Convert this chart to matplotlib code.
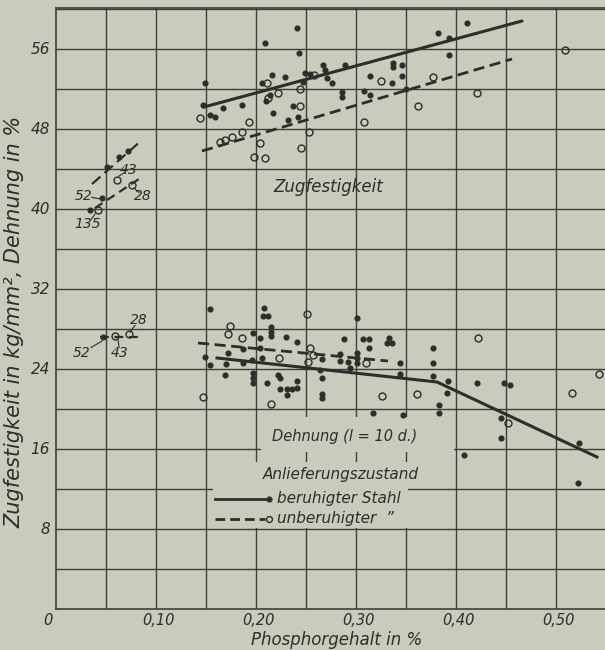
import matplotlib
matplotlib.use("Agg")
import matplotlib.pyplot as plt
from matplotlib.patches import Rectangle

# ---------------- data ----------------
# Zugfestigkeit (tensile strength), beruhigter Stahl (filled dots)
zug_ber_x = [0.241, 0.209, 0.243, 0.267, 0.216, 0.229, 0.249, 0.254, 0.269, 0.271,
             0.206, 0.149, 0.147, 0.167, 0.186, 0.154, 0.159, 0.217, 0.237, 0.232,
             0.242, 0.210, 0.214, 0.247,
             0.411, 0.382, 0.393, 0.393, 0.289, 0.337, 0.337, 0.346, 0.314, 0.346,
             0.336, 0.276, 0.286, 0.286, 0.308, 0.314, 0.350]
zug_ber_y = [58.1, 56.6, 55.6, 54.4, 53.4, 53.2, 53.6, 53.5, 53.9, 53.1,
             52.6, 52.6, 50.4, 50.1, 50.4, 49.4, 49.2, 49.6, 50.3, 48.9,
             49.2, 50.8, 51.4, 52.7,
             58.6, 57.6, 57.1, 55.4, 54.4, 54.6, 54.2, 54.4, 53.3, 53.3,
             52.6, 52.6, 51.7, 51.2, 51.8, 51.4, 52.0]
# Zugfestigkeit, unberuhigter Stahl (open circles)
zug_unb_x = [0.144, 0.193, 0.186, 0.164, 0.169, 0.176, 0.204, 0.198, 0.209, 0.245,
             0.244, 0.244, 0.253, 0.211, 0.212, 0.222, 0.258,
             0.325, 0.377, 0.421, 0.362, 0.308, 0.509]
zug_unb_y = [49.1, 48.7, 47.7, 46.7, 46.9, 47.2, 46.6, 45.2, 45.1, 46.1,
             50.3, 52.0, 47.7, 52.6, 51.1, 51.6, 53.4,
             52.8, 53.2, 51.6, 50.3, 48.7, 55.9]

# Dehnung (elongation), beruhigter Stahl
deh_ber_x = [0.154, 0.208, 0.207, 0.212, 0.215, 0.215, 0.215, 0.197, 0.204, 0.230,
             0.241, 0.172, 0.204, 0.187, 0.206, 0.149, 0.154, 0.170, 0.187, 0.196,
             0.169, 0.197, 0.197, 0.197, 0.211, 0.222, 0.224, 0.241, 0.224, 0.231,
             0.236, 0.241, 0.231, 0.266, 0.266, 0.264, 0.266, 0.266,
             0.301, 0.288, 0.307, 0.313, 0.313, 0.333, 0.331, 0.336, 0.284, 0.284,
             0.301, 0.301, 0.301, 0.292, 0.294, 0.344, 0.344, 0.377, 0.377, 0.377,
             0.392, 0.391, 0.383, 0.383, 0.317, 0.347, 0.421, 0.448, 0.454, 0.445,
             0.445, 0.408, 0.523, 0.522]
deh_ber_y = [30.0, 30.1, 29.3, 29.3, 28.2, 27.7, 27.3, 27.6, 27.1, 27.2,
             26.7, 25.6, 26.1, 26.0, 25.1, 25.2, 24.4, 24.5, 24.6, 24.9,
             23.4, 23.6, 23.1, 22.6, 22.6, 23.4, 23.1, 22.8, 22.0, 22.0,
             22.0, 22.1, 21.4, 21.5, 21.1, 23.9, 23.1, 25.0,
             29.1, 27.0, 27.0, 27.0, 26.1, 27.1, 26.6, 26.6, 25.5, 24.8,
             25.6, 25.1, 24.6, 24.7, 24.1, 24.6, 23.5, 26.1, 24.6, 23.3,
             22.8, 21.6, 20.4, 19.6, 19.6, 19.4, 22.6, 22.6, 22.4, 19.1,
             17.1, 15.4, 16.6, 12.6]
# Dehnung, unberuhigter Stahl
deh_unb_x = [0.174, 0.172, 0.186, 0.251, 0.223, 0.254, 0.257, 0.252, 0.147, 0.215,
             0.422, 0.310, 0.326, 0.361, 0.516, 0.543, 0.452]
deh_unb_y = [28.3, 27.5, 27.1, 29.5, 25.1, 26.1, 25.4, 24.7, 21.2, 20.5,
             27.1, 24.6, 21.3, 21.5, 21.6, 23.5, 18.6]

# mean lines
zug_ber_line_x = [0.148, 0.466]
zug_ber_line_y = [50.2, 58.8]
zug_unb_line_x = [0.146, 0.456]
zug_unb_line_y = [45.8, 55.0]
deh_ber_line_x = [0.161, 0.381, 0.541]
deh_ber_line_y = [25.1, 22.7, 15.2]
deh_unb_line_x = [0.142, 0.332]
deh_unb_line_y = [26.6, 24.8]

# low-phosphorus group (numbered samples)
low_zug_ber_line_x = [0.036, 0.086]
low_zug_ber_line_y = [42.5, 46.9]
low_zug_unb_line_x = [0.039, 0.086]
low_zug_unb_line_y = [40.1, 43.2]
low_deh_line_x = [0.044, 0.087]
low_deh_line_y = [27.2, 27.2]
low_zug_ber_x = [0.051, 0.063, 0.072, 0.046, 0.034]
low_zug_ber_y = [44.2, 45.2, 45.8, 41.1, 39.9]
low_zug_unb_x = [0.061, 0.076, 0.042]
low_zug_unb_y = [42.9, 42.4, 39.9]
low_deh_ber_x = [0.047]
low_deh_ber_y = [27.2]
low_deh_unb_x = [0.059, 0.073]
low_deh_unb_y = [27.3, 27.5]

# sample labels: text, label position, leader end
sample_labels = ["43", "52", "28", "135", "28", "52", "43"]
sample_lab_x = [0.073, 0.028, 0.087, 0.032, 0.083, 0.026, 0.064]
sample_lab_y = [43.9, 41.3, 41.3, 38.5, 28.9, 25.6, 25.6]
sample_ptr_x = [0.063, 0.045, 0.078, 0.039, 0.074, 0.046, 0.062]
sample_ptr_y = [43.3, 41.0, 42.1, 39.5, 27.7, 26.8, 26.9]

xtick_pos = [0.10, 0.20, 0.30, 0.40, 0.50]
xtick_lab = ["0,10", "0,20", "0,30", "0,40", "0,50"]
ytick_pos = [8, 16, 24, 32, 40, 48, 56]
ytick_lab = ["8", "16", "24", "32", "40", "48", "56"]

# ---------------- style ----------------
BG = "#cacbbc"
INK = "#2d2d29"
GRID = "#3f3f3a"
FONT = ["DejaVu Sans"]

plt.rcParams["font.family"] = FONT
plt.rcParams["font.style"] = "italic"

fig = plt.figure(figsize=(6.05, 6.5), dpi=100, facecolor=BG)
ax = fig.add_axes([56 / 605, 41 / 650, 549 / 605, 601 / 650])
ax.set_facecolor(BG)
ax.set_xlim(0, 0.549)
ax.set_ylim(0, 60.1)

# grid
for gx in [i * 0.05 for i in range(1, 11)]:
    ax.axvline(gx, color=GRID, lw=1.0, zorder=0.5)
for gy in range(4, 61, 4):
    ax.axhline(gy, color=GRID, lw=1.0, zorder=0.5)
for s in ["left", "bottom", "top"]:
    ax.spines[s].set_color(GRID)
    ax.spines[s].set_linewidth(1.2)
ax.spines["right"].set_visible(False)
ax.set_xticks([])
ax.set_yticks([])

# masks (label areas on the original drawing)
ax.add_patch(Rectangle((0.205, 15.75), 0.193, 3.5, facecolor=BG, edgecolor="none", zorder=1))
ax.add_patch(Rectangle((0.157, 8.08), 0.195, 6.62, facecolor=BG, edgecolor="none", zorder=1))

# mean lines
ax.plot(zug_ber_line_x, zug_ber_line_y, color=INK, lw=2.2, solid_capstyle="round", zorder=3)
ax.plot(zug_unb_line_x, zug_unb_line_y, color=INK, lw=2.0, dashes=(4, 2), zorder=3)
ax.plot(deh_ber_line_x, deh_ber_line_y, color=INK, lw=2.2, zorder=3)
ax.plot(deh_unb_line_x, deh_unb_line_y, color=INK, lw=2.0, dashes=(4, 2), zorder=3)
ax.plot(low_zug_ber_line_x, low_zug_ber_line_y, color=INK, lw=1.6, dashes=(5, 2.5), zorder=3)
ax.plot(low_zug_unb_line_x, low_zug_unb_line_y, color=INK, lw=1.6, dashes=(4, 2.5), zorder=3)
ax.plot(low_deh_line_x, low_deh_line_y, color=INK, lw=1.6, dashes=(4, 2.5), zorder=3)

# points
def filled(x, y):
    ax.plot(x, y, ls="none", marker="o", ms=3.4, mfc=INK, mec=INK, zorder=4)

def hollow(x, y):
    ax.plot(x, y, ls="none", marker="o", ms=5.0, mfc="none", mec=INK, mew=1.0, zorder=4)

filled(zug_ber_x, zug_ber_y)
hollow(zug_unb_x, zug_unb_y)
filled(deh_ber_x, deh_ber_y)
hollow(deh_unb_x, deh_unb_y)
filled(low_zug_ber_x, low_zug_ber_y)
hollow(low_zug_unb_x, low_zug_unb_y)
filled(low_deh_ber_x, low_deh_ber_y)
hollow(low_deh_unb_x, low_deh_unb_y)

for t, lx, ly, px, py in zip(sample_labels, sample_lab_x, sample_lab_y, sample_ptr_x, sample_ptr_y):
    ax.text(lx, ly, t, fontsize=10, color=INK, ha="center", va="center", zorder=5)
    ax.plot([lx + (px - lx) * 0.45, px], [ly + (py - ly) * 0.45, py], color=INK, lw=0.8, zorder=5)

# annotations
ax.text(0.217, 42.2, "Zugfestigkeit", fontsize=12, color=INK, ha="left", va="center", zorder=5)
ax.text(0.216, 17.3, "Dehnung (l = 10 d.)", fontsize=10.5, color=INK, ha="left", va="center", zorder=5)
ax.text(0.207, 13.4, "Anlieferungszustand", fontsize=11, color=INK, ha="left", va="center", zorder=5,
        bbox=dict(facecolor=BG, edgecolor="none", pad=0.5))

# legend (drawn by hand like the original)
ax.plot([0.159, 0.209], [11.0, 11.0], color=INK, lw=2.0, zorder=5)
ax.plot([0.213], [11.0], ls="none", marker="o", ms=3.4, mfc=INK, mec=INK, zorder=5)
ax.text(0.221, 11.0, "beruhigter Stahl", fontsize=11, color=INK, ha="left", va="center", zorder=5)
ax.plot([0.159, 0.209], [9.0, 9.0], color=INK, lw=2.0, dashes=(3.5, 1.8), zorder=5)
ax.plot([0.213], [9.0], ls="none", marker="o", ms=4.2, mfc="none", mec=INK, mew=1.0, zorder=5)
ax.text(0.221, 9.0, "unberuhigter  \u201d", fontsize=11, color=INK, ha="left", va="center", zorder=5)

# tick labels
for p, t in zip(xtick_pos, xtick_lab):
    ax.text(p + 0.002, -1.15, t, fontsize=10.5, color=INK, ha="center", va="center", clip_on=False)
ax.text(-0.008, -1.15, "0", fontsize=10.5, color=INK, ha="center", va="center", clip_on=False)
for p, t in zip(ytick_pos, ytick_lab):
    ax.text(-0.006, p, t, fontsize=11, color=INK, ha="right", va="center", clip_on=False)

fig.text(0.557, 0.0155, "Phosphorgehalt in %", fontsize=12, color=INK, ha="center", va="center")
fig.text(0.024, 0.505, "Zugfestigkeit in kg/mm², Dehnung in %", fontsize=15, color=INK,
         ha="center", va="center", rotation=90)

fig.savefig("out.png", dpi=100, facecolor=BG)
